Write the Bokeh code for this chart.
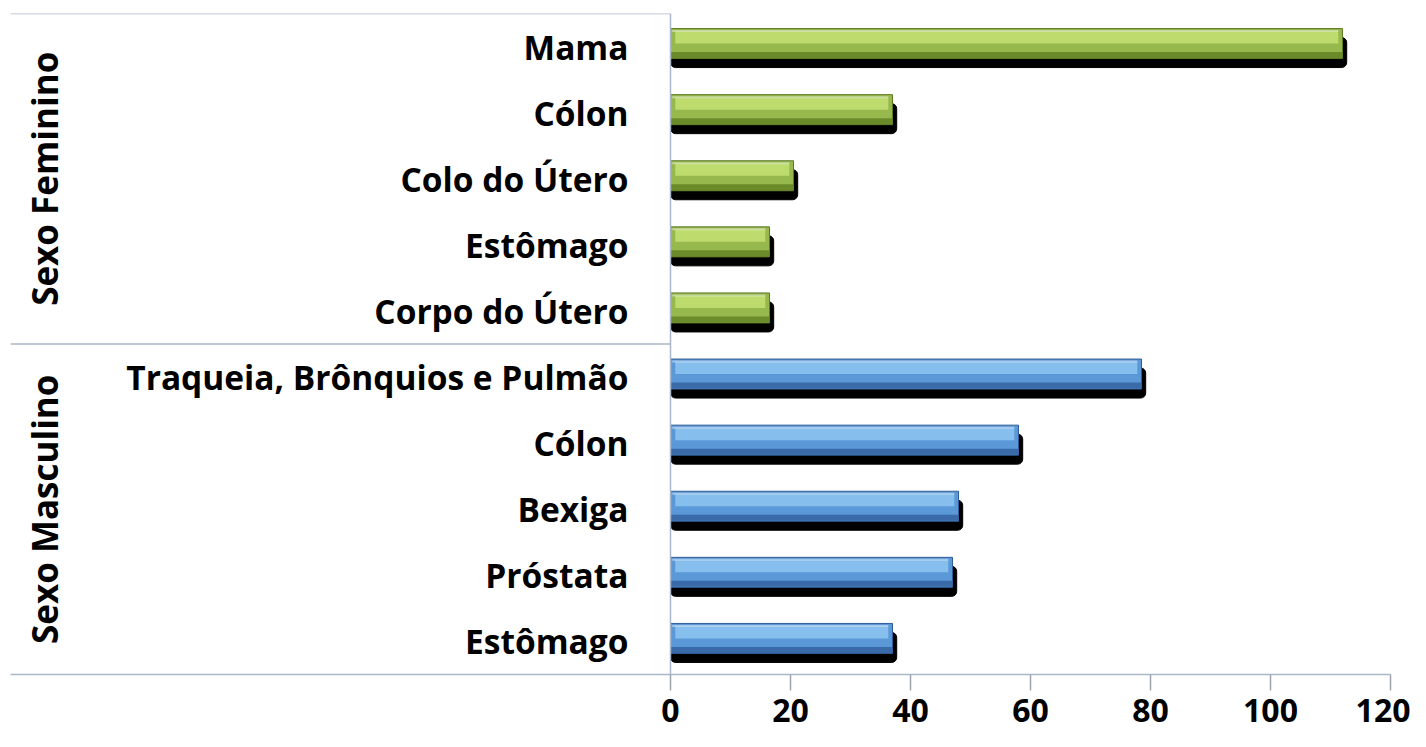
import math
from bokeh.plotting import figure
from bokeh.models import FactorRange, Range1d, FixedTicker, ColumnDataSource
from bokeh.transform import dodge
from bokeh.core.properties import value
from bokeh.embed import file_html
from bokeh.resources import INLINE

# ---------------- data ----------------
groups = ["Sexo Feminino", "Sexo Masculino"]
fem_labels = ["Mama", "Cólon", "Colo do Útero", "Estômago", "Corpo do Útero"]
fem_values = [112, 37, 20.5, 16.5, 16.5]
masc_labels = ["Traqueia, Brônquios e Pulmão", "Cólon", "Bexiga", "Próstata", "Estômago"]
masc_values = [78.5, 58, 48, 47, 37]
x_ticks = [0, 20, 40, 60, 80, 100, 120]

FONT = "Open Sans"
ROW_PX = 66.1

factors = [("Sexo Masculino", c) for c in reversed(masc_labels)] + \
          [("Sexo Feminino", c) for c in reversed(fem_labels)]
y_range = FactorRange(*factors, factor_padding=0, group_padding=0, range_padding=0)

p = figure(
    frame_width=1380, frame_height=661,
    x_range=Range1d(-110, 120), y_range=y_range,
    min_border_left=10, min_border_right=20, min_border_top=13, min_border_bottom=58,
    output_backend="svg", toolbar_location=None,
)
p.outline_line_color = None
p.xgrid.visible = False
p.ygrid.visible = False
p.background_fill_color = "white"

# x axis
xa = p.xaxis[0]
xa.ticker = FixedTicker(ticks=x_ticks)
xa.axis_line_color = "#AAB7C9"
xa.axis_line_width = 1.5
xa.major_tick_line_color = "#9AA3AE"
xa.major_tick_line_width = 1.5
xa.major_tick_out = 16
xa.major_tick_in = 0
xa.minor_tick_line_color = None
xa.major_label_text_font = FONT
xa.major_label_text_font_size = "32px"
xa.major_label_text_font_style = "bold"
xa.major_label_text_color = "black"
xa.major_label_standoff = 8

# y axis (categorical) placed at x = 0
ya = p.yaxis[0]
ya.fixed_location = 0
ya.axis_line_color = "#AAB7C9"
ya.axis_line_width = 1.5
ya.major_tick_line_color = None
ya.minor_tick_line_color = None
ya.major_label_text_font = FONT
ya.major_label_text_font_size = "33.5px"
ya.major_label_text_font_style = "bold"
ya.major_label_text_color = "black"
ya.major_label_standoff = 36
ya.separator_line_color = None
ya.group_text_color = None

# separators in the label area
n_m, n_f = len(masc_labels), len(fem_labels)
p.segment(x0=[-110, -110], x1=[0, 0], y0=[n_m, n_m + n_f], y1=[n_m, n_m + n_f],
          line_color="#AAB7C9", line_width=1.5)

# group labels
p.text(x=[-104.3, -104.3], y=groups, text=groups, angle=math.pi / 2,
       text_align="center", text_baseline="middle",
       text_font=value(FONT), text_font_size="35px", text_font_style="bold",
       text_color="black")

face_h = 30 / ROW_PX
face_off = 3 / ROW_PX
shadow_off = -6 / ROW_PX


def draw(labels, vals, group, base, light, dark, edge):
    src = ColumnDataSource(dict(
        y=[(group, c) for c in labels],
        v=vals,
        vs=[v + 0.7 for v in vals],
        vh=[v - 0.7 for v in vals],
    ))
    p.hbar(y=dodge("y", shadow_off, range=y_range), left=0, right="vs", height=face_h,
           fill_color="black", line_color="black", border_radius=5, source=src)
    p.hbar(y=dodge("y", face_off, range=y_range), left=0, right="v", height=face_h,
           fill_color=base, line_color=edge, line_width=1, source=src)
    p.hbar(y=dodge("y", face_off + (15 - 9) / ROW_PX, range=y_range), left=0.8, right="vh",
           height=12 / ROW_PX, fill_color=light, line_color=None, source=src)
    p.hbar(y=dodge("y", face_off + (15 - 2.5) / ROW_PX, range=y_range), left=0.3, right="vh",
           height=2 / ROW_PX, fill_color="white", fill_alpha=0.45, line_color=None, source=src)
    p.hbar(y=dodge("y", face_off - (15 - 3.5) / ROW_PX, range=y_range), left=0, right="v",
           height=6 / ROW_PX, fill_color=dark, line_color=None, source=src)


draw(fem_labels, fem_values, "Sexo Feminino", "#96B84C", "#BEDB6E", "#6B8B2A", "#5E7A24")
draw(masc_labels, masc_values, "Sexo Masculino", "#5A98D8", "#86BFEE", "#3A6AA8", "#2F5C96")

open("out.html", "w").write(file_html(p, INLINE))
